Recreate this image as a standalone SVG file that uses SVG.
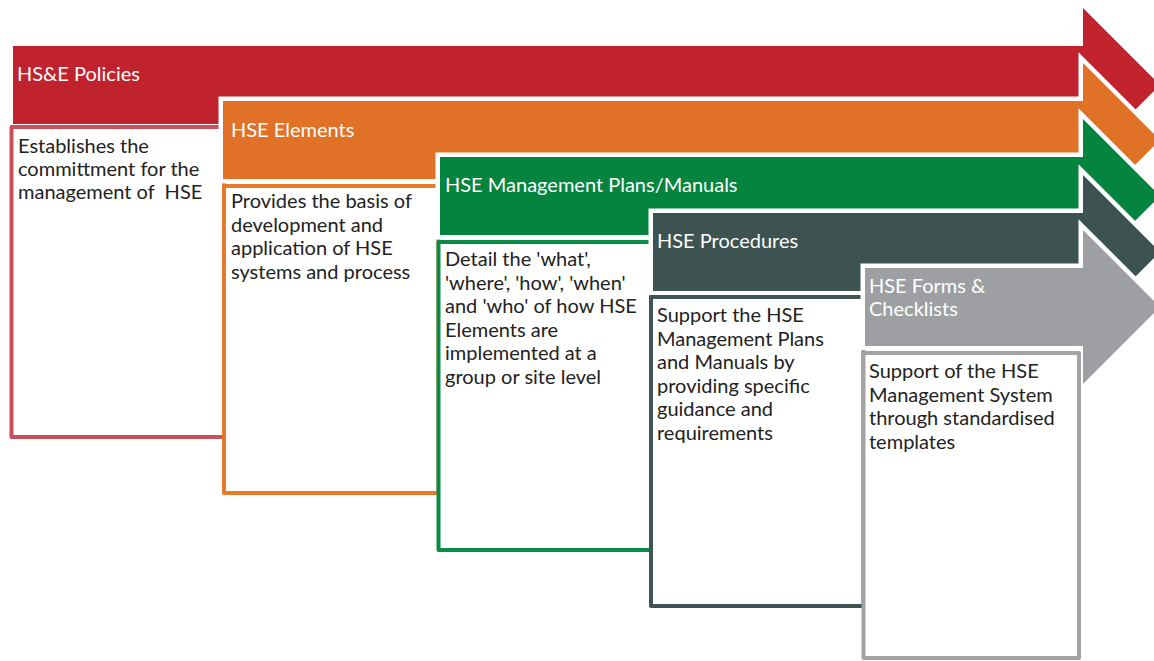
<svg xmlns="http://www.w3.org/2000/svg" width="1154" height="661" viewBox="0 0 1154 661">
  <style>
    .band { stroke: #ffffff; stroke-width: 9; stroke-linejoin: miter; paint-order: stroke; }
    .box { fill: #ffffff; stroke-width: 4; stroke-linejoin: round; }
    .title { font-family: Lato, "Open Sans", sans-serif; font-size: 20px; fill: #ffffff; }
    .body { font-family: Lato, "Open Sans", sans-serif; font-size: 20px; fill: #222222; }
  </style>
  <rect width="1154" height="661" fill="#ffffff"/>

  <!-- Level 1: policies -->
  <g id="policies">
    <path class="band" fill="#c1232e" d="M13,46 H1083 V8 L1160,85 L1083,162 V124 H13 Z"/>
    <rect class="box" stroke="#c9505a" x="11.5" y="127" width="212.5" height="310"/>
    <text class="title" x="17" y="81">HS&amp;E Policies</text>
    <text class="body" x="18" y="153">Establishes the</text>
    <text class="body" x="18" y="176">committment for the</text>
    <text class="body" x="18" y="199" xml:space="preserve">management of  HSE</text>
  </g>

  <!-- Level 2: elements -->
  <g id="elements">
    <path class="band" fill="#e07126" d="M223,101 H1083 V63 L1160,140 L1083,217 V179 H223 Z"/>
    <rect class="box" stroke="#e97a2c" x="224" y="186" width="214.5" height="307"/>
    <text class="title" x="231" y="137">HSE Elements</text>
    <text class="body" x="231" y="208">Provides the basis of</text>
    <text class="body" x="231" y="231.5">development and</text>
    <text class="body" x="231" y="255">application of HSE</text>
    <text class="body" x="231" y="278.5">systems and process</text>
  </g>

  <!-- Level 3: management plans / manuals -->
  <g id="plans">
    <path class="band" fill="#05843f" d="M440,157 H1083 V119 L1160,196 L1083,273 V235 H440 Z"/>
    <rect class="box" stroke="#0b8c46" x="438.5" y="242" width="212.5" height="308"/>
    <text class="title" x="445" y="192">HSE Management Plans/Manuals</text>
    <text class="body" x="445" y="266">Detail the 'what',</text>
    <text class="body" x="445" y="289.5">'where', 'how', 'when'</text>
    <text class="body" x="445" y="313">and 'who' of how HSE</text>
    <text class="body" x="445" y="336.5">Elements are</text>
    <text class="body" x="445" y="360">implemented at a</text>
    <text class="body" x="445" y="383.5">group or site level</text>
  </g>

  <!-- Level 4: procedures -->
  <g id="procedures">
    <path class="band" fill="#3d5352" d="M653,213 H1083 V175 L1160,252 L1083,329 V291 H653 Z"/>
    <rect class="box" stroke="#3f5553" x="651" y="297" width="212.5" height="309"/>
    <text class="title" x="657" y="248">HSE Procedures</text>
    <text class="body" x="657" y="322">Support the HSE</text>
    <text class="body" x="657" y="345.5">Management Plans</text>
    <text class="body" x="657" y="369">and Manuals by</text>
    <text class="body" x="657" y="392.5">providing specific</text>
    <text class="body" x="657" y="416">guidance and</text>
    <text class="body" x="657" y="439.5">requirements</text>
  </g>

  <!-- Level 5: forms and checklists -->
  <g id="forms">
    <path class="band" fill="#9d9fa2" d="M865,268 H1083 V230 L1160,307 L1083,384 V346 H865 Z"/>
    <rect class="box" stroke="#a3a3a3" x="863.5" y="353" width="215.5" height="305"/>
    <text class="title" x="869" y="293" fill="#f2f2f2">HSE Forms &amp;</text>
    <text class="title" x="869" y="316" fill="#f2f2f2">Checklists</text>
    <text class="body" x="869" y="378">Support of the HSE</text>
    <text class="body" x="869" y="401.5">Management System</text>
    <text class="body" x="869" y="425">through standardised</text>
    <text class="body" x="869" y="448.5">templates</text>
  </g>

  <!-- no connectors: levels are linked by overlapping arrows -->
  <g id="connectors"/>
</svg>
